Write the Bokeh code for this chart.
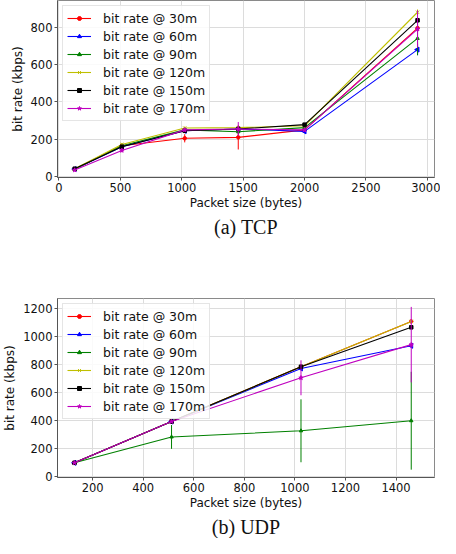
import math
from bokeh.plotting import figure
from bokeh.models import Range1d, Legend, LegendItem, Title, FixedTicker
from bokeh.layouts import column
from bokeh.embed import file_html
from bokeh.resources import INLINE

# ---------------- data ----------------
series_labels = ["bit rate @ 30m", "bit rate @ 60m", "bit rate @ 90m",
                 "bit rate @ 120m", "bit rate @ 150m", "bit rate @ 170m"]

tcp_x = [128, 512, 1024, 1460, 2000, 2920]
tcp_30m = [40, 165, 205, 210, 250, 795]
tcp_60m = [40, 160, 245, 255, 242, 680]
tcp_90m = [40, 165, 250, 240, 262, 740]
tcp_120m = [42, 172, 260, 262, 272, 880]
tcp_150m = [42, 160, 245, 255, 278, 837]
tcp_170m = [35, 140, 250, 255, 250, 790]
tcp_err_30m = [3, 10, 22, 65, 10, 20]
tcp_err_60m = [3, 8, 8, 10, 8, 30]
tcp_err_90m = [3, 8, 10, 10, 8, 90]
tcp_err_120m = [3, 8, 8, 8, 8, 15]
tcp_err_150m = [3, 8, 8, 8, 8, 15]
tcp_err_170m = [3, 10, 10, 37, 8, 100]

udp_x = [128, 512, 1024, 1460]
udp_30m = [100, 395, 787, 1111]
udp_60m = [100, 395, 775, 937]
udp_90m = [100, 285, 329, 401]
udp_120m = [100, 395, 787, 1111]
udp_150m = [100, 395, 787, 1069]
udp_170m = [100, 395, 708, 945]
udp_err_30m = [3, 5, 10, 10]
udp_err_60m = [3, 5, 10, 10]
udp_err_90m = [3, 85, 225, 350]
udp_err_120m = [3, 5, 10, 10]
udp_err_150m = [3, 5, 10, 10]
udp_err_170m = [3, 5, 125, 270]

tcp_xticks = [0, 500, 1000, 1500, 2000, 2500, 3000]
tcp_yticks = [0, 200, 400, 600, 800]
udp_xticks = [200, 400, 600, 800, 1000, 1200, 1400]
udp_yticks = [0, 200, 400, 600, 800, 1000, 1200]

# ---------------- styles ----------------
colors = ["#ff0000", "#0000ff", "#008000", "#bfbf00", "#000000", "#bf00bf"]
markers = ["circle", "triangle", "triangle", "x", "square", "star"]
msizes = [3.5, 5, 3.5, 4.5, 3.5, 4.5]
mangles = [0.0, math.pi / 2, 0.0, 0.0, 0.0, 0.0]
FONT = "DejaVu Sans"
TICK_FS = "11.5px"
LABEL_FS = "12px"
LEG_FS = "12.5px"


def make_panel(xs, ys_list, errs_list, xr, yr, xticks, yticks, caption,
               height, top, bottom):
    p = figure(width=440, height=height, output_backend="svg",
               toolbar_location=None,
               x_range=Range1d(*xr), y_range=Range1d(*yr),
               min_border_left=52, min_border_right=6,
               min_border_top=top, min_border_bottom=bottom)
    p.background_fill_color = "white"
    p.border_fill_color = "white"
    p.outline_line_color = "#8a8a8a"
    p.outline_line_width = 1
    p.xgrid.grid_line_color = "#dcdcdc"
    p.ygrid.grid_line_color = "#dcdcdc"
    p.xaxis.ticker = FixedTicker(ticks=xticks)
    p.yaxis.ticker = FixedTicker(ticks=yticks)
    for ax in (p.xaxis[0], p.yaxis[0]):
        ax.axis_line_color = "#555555"
        ax.major_tick_line_color = "#555555"
        ax.major_tick_out = 3
        ax.major_tick_in = 0
        ax.minor_tick_line_color = None
        ax.major_label_text_font = FONT
        ax.major_label_text_font_size = TICK_FS
        ax.major_label_text_color = "#111111"
        ax.axis_label_text_font = FONT
        ax.axis_label_text_font_size = LABEL_FS
        ax.axis_label_text_font_style = "normal"
        ax.axis_label_text_color = "#111111"
    p.xaxis.axis_label = "Packet size (bytes)"
    p.yaxis.axis_label = "bit rate (kbps)"
    p.xaxis.axis_label_standoff = 1
    p.yaxis.axis_label_standoff = 3
    p.xaxis.major_label_standoff = 2
    p.yaxis.major_label_standoff = 2

    items = []
    for i, (ys, es) in enumerate(zip(ys_list, errs_list)):
        c = colors[i]
        p.segment(x0=xs, y0=[y - e for y, e in zip(ys, es)],
                  x1=xs, y1=[y + e for y, e in zip(ys, es)],
                  line_color=c, line_width=1)
        ln = p.line(xs, ys, line_color=c, line_width=1.1)
        sc = p.scatter(xs, ys, marker=markers[i], size=msizes[i],
                       angle=mangles[i], angle_units="rad",
                       line_color=c, fill_color=c)
        items.append(LegendItem(label=series_labels[i], renderers=[ln, sc]))

    leg = Legend(items=items, location="top_left")
    leg.label_text_font = FONT
    leg.label_text_font_size = LEG_FS
    leg.label_text_color = "#111111"
    leg.label_height = 16
    leg.glyph_height = 10
    leg.glyph_width = 24
    leg.spacing = 2
    leg.padding = 4
    leg.margin = 5
    leg.label_standoff = 12
    leg.border_line_color = "#cccccc"
    leg.background_fill_alpha = 0.85
    p.add_layout(leg)

    t = Title(text=caption, align="center", text_font="Liberation Serif",
              text_font_size="20px", text_font_style="normal",
              text_color="#111111", standoff=2)
    p.add_layout(t, "below")
    return p


p1 = make_panel(tcp_x,
                [tcp_30m, tcp_60m, tcp_90m, tcp_120m, tcp_150m, tcp_170m],
                [tcp_err_30m, tcp_err_60m, tcp_err_90m, tcp_err_120m,
                 tcp_err_150m, tcp_err_170m],
                (-12, 3058), (-5, 943), tcp_xticks, tcp_yticks, "(a) TCP",
                height=240, top=0, bottom=63)
p2 = make_panel(udp_x,
                [udp_30m, udp_60m, udp_90m, udp_120m, udp_150m, udp_170m],
                [udp_err_30m, udp_err_60m, udp_err_90m, udp_err_120m,
                 udp_err_150m, udp_err_170m],
                (61, 1552), (-5, 1275), udp_xticks, udp_yticks, "(b) UDP",
                height=298, top=58, bottom=59)

layout = column(p1, p2, spacing=0)
open("out.html", "w").write(file_html(layout, INLINE))
